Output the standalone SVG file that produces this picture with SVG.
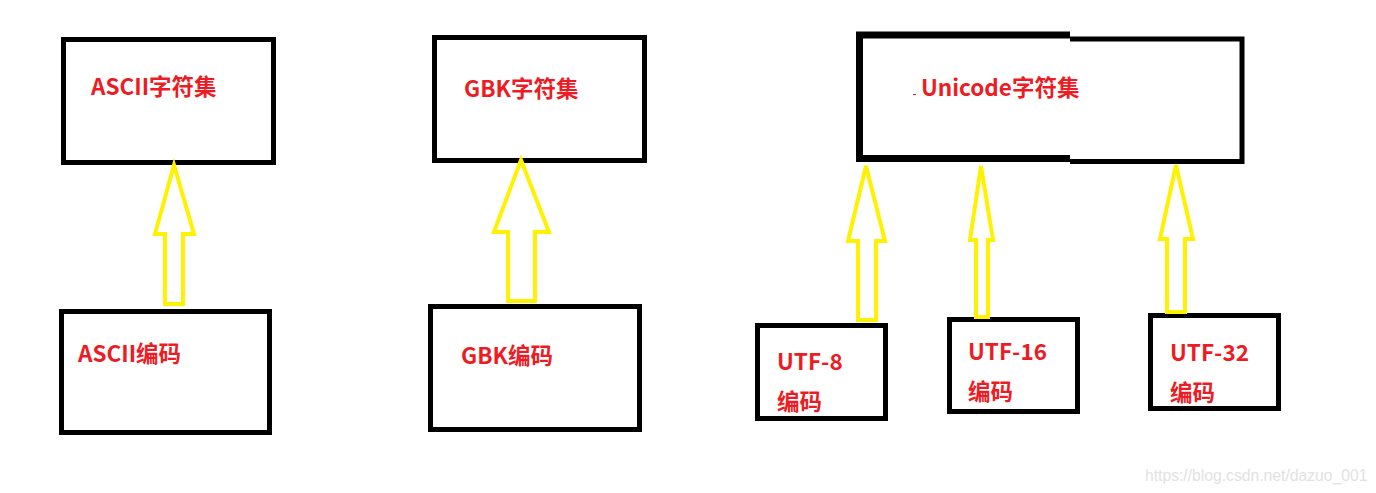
<svg xmlns="http://www.w3.org/2000/svg" width="1376" height="493" viewBox="0 0 1376 493">
<style>
.box{fill:#fff;stroke:#000;stroke-width:5}
.lbl{fill:#ED1C24;font-family:"Noto Sans CJK SC","Microsoft YaHei",sans-serif;font-weight:bold;font-size:22.5px}
.arr{fill:#fff;stroke:#FFF200;stroke-width:4;stroke-linejoin:miter}
.wm{fill:#e2e2e2;font-family:"Liberation Sans",Arial,sans-serif;font-size:15.7px}
</style>
<rect width="1376" height="493" fill="#fff"/>
<g id="ascii-set"><rect class="box" x="63.5" y="39.5" width="210" height="123"/><text class="lbl" x="91" y="95">ASCII字符集</text></g>
<g id="gbk-set"><rect class="box" x="434.5" y="37.5" width="210" height="123"/><text class="lbl" x="464" y="97">GBK字符集</text></g>
<g id="unicode-set">
<rect x="860" y="36" width="382" height="124" fill="#fff"/>
<path d="M1070,35 H859.5 V158.5 H1070" fill="none" stroke="#000" stroke-width="7"/>
<path d="M1070,39 H1242 V161.5 H1070" fill="none" stroke="#000" stroke-width="5"/>
<line x1="913" y1="94.5" x2="916" y2="94.5" stroke="#ED1C24" stroke-width="1"/>
<text class="lbl" x="921" y="96">Unicode字符集</text>
</g>
<g id="ascii-enc"><rect class="box" x="61.5" y="311.5" width="208" height="121"/><text class="lbl" x="78" y="362">ASCII编码</text></g>
<g id="gbk-enc"><rect class="box" x="430.5" y="306.5" width="209" height="123"/><text class="lbl" x="461" y="364">GBK编码</text></g>
<g id="utf8-enc"><rect class="box" x="757.5" y="325.5" width="128" height="93"/><text class="lbl" x="777" y="370">UTF-8</text><text class="lbl" x="777" y="410">编码</text></g>
<g id="utf16-enc"><rect class="box" x="949.5" y="319.5" width="128" height="92"/><text class="lbl" x="968" y="360">UTF-16</text><text class="lbl" x="968" y="400">编码</text></g>
<g id="utf32-enc"><rect class="box" x="1150.5" y="315.5" width="128" height="93"/><text class="lbl" x="1170" y="361">UTF-32</text><text class="lbl" x="1170" y="401">编码</text></g>
<g id="connectors">
<polygon class="arr" points="174,165 194,234 183,234 183,304 165,304 165,234 155,234"/>
<polygon class="arr" points="521,160 549,232 535,232 535,301 508,301 508,232 494,232"/>
<polygon class="arr" points="866,166 885,241 876,241 876,320 858,320 858,241 848,241"/>
<polygon class="arr" points="981,166 993,240 988,240 988,317 976,317 976,240 970,240"/>
<polygon class="arr" points="1176,165 1193,239 1185,239 1185,312 1167,312 1167,239 1160,239"/>
</g>
<text class="wm" x="1145" y="481">https://blog.csdn.net/dazuo_001</text>
</svg>
